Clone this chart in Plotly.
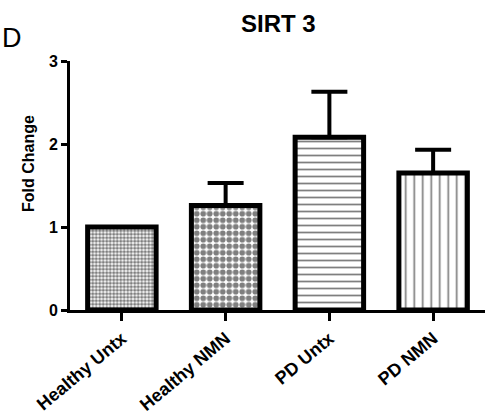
import plotly.graph_objects as go

categories = ["Healthy Untx", "Healthy NMN", "PD Untx", "PD NMN"]
means = [1.0, 1.26, 2.08, 1.65]
errors_up = [0.0, 0.27, 0.55, 0.28]
y_ticks = [0, 1, 2, 3]

patterns = [
    dict(shape=".", size=3.5, solidity=0.65, fgcolor="black", bgcolor="white", fillmode="overlay"),
    dict(shape=".", size=6.5, solidity=0.62, fgcolor="black", bgcolor="white", fillmode="overlay"),
    dict(shape="-", size=7, solidity=0.25, fgcolor="black", bgcolor="white", fillmode="overlay"),
    dict(shape="|", size=8.5, solidity=0.2, fgcolor="black", bgcolor="white", fillmode="overlay"),
]

W, H = 487, 417
ML, MR, MT, MB = 70, 2, 61, 107

fig = go.Figure()
for i, (c, m, e) in enumerate(zip(categories, means, errors_up)):
    fig.add_trace(go.Bar(
        x=[c], y=[m], width=0.66,
        marker=dict(color="white", line=dict(color="black", width=5), pattern=patterns[i]),
        error_y=dict(type="data", symmetric=False, array=[e], arrayminus=[0],
                     color="black", thickness=4, width=18, visible=e > 0),
        showlegend=False,
    ))

fig.update_layout(
    template="none",
    width=W, height=H,
    margin=dict(l=ML, r=MR, t=MT, b=MB, autoexpand=False),
    plot_bgcolor="white", paper_bgcolor="white",
    font=dict(family="Liberation Sans, Arial, sans-serif", color="black"),
    xaxis=dict(
        range=[-0.5, 3.5], showline=True, linecolor="black", linewidth=3,
        ticks="outside", ticklen=8, tickwidth=3, tickcolor="black",
        tickangle=-40, tickfont=dict(size=18, weight="bold"),
        showgrid=False, zeroline=False, automargin=False,
    ),
    yaxis=dict(
        range=[0, 3], tickvals=y_ticks, showline=True, linecolor="black", linewidth=3,
        ticks="outside", ticklen=6, tickwidth=3, tickcolor="black",
        tickfont=dict(size=16, weight="bold"),
        showgrid=False, zeroline=False, automargin=False,
    ),
)

pw, ph = W - ML - MR, H - MT - MB
def to_paper(px, py):
    return (px - ML) / pw, (H - MB - py) / ph

ax, ay = to_paper(278, 24)
dx, dy = to_paper(12, 38)
tx, ty = to_paper(28, 164)
fig.add_annotation(text="<b>SIRT 3</b>", x=ax, y=ay, xref="paper", yref="paper",
                   xanchor="center", yanchor="middle",
                   showarrow=False, font=dict(size=24))
fig.add_annotation(text="D", x=dx, y=dy, xref="paper", yref="paper",
                   xanchor="center", yanchor="middle",
                   showarrow=False, font=dict(size=27))
fig.add_annotation(text="<b>Fold Change</b>", x=tx, y=ty, xref="paper", yref="paper",
                   xanchor="center", yanchor="middle", textangle=-90,
                   showarrow=False, font=dict(size=16))

fig.write_html("out.html", config={"displayModeBar": False},
               post_script="document.body.style.margin='0';document.body.style.overflow='hidden';")
